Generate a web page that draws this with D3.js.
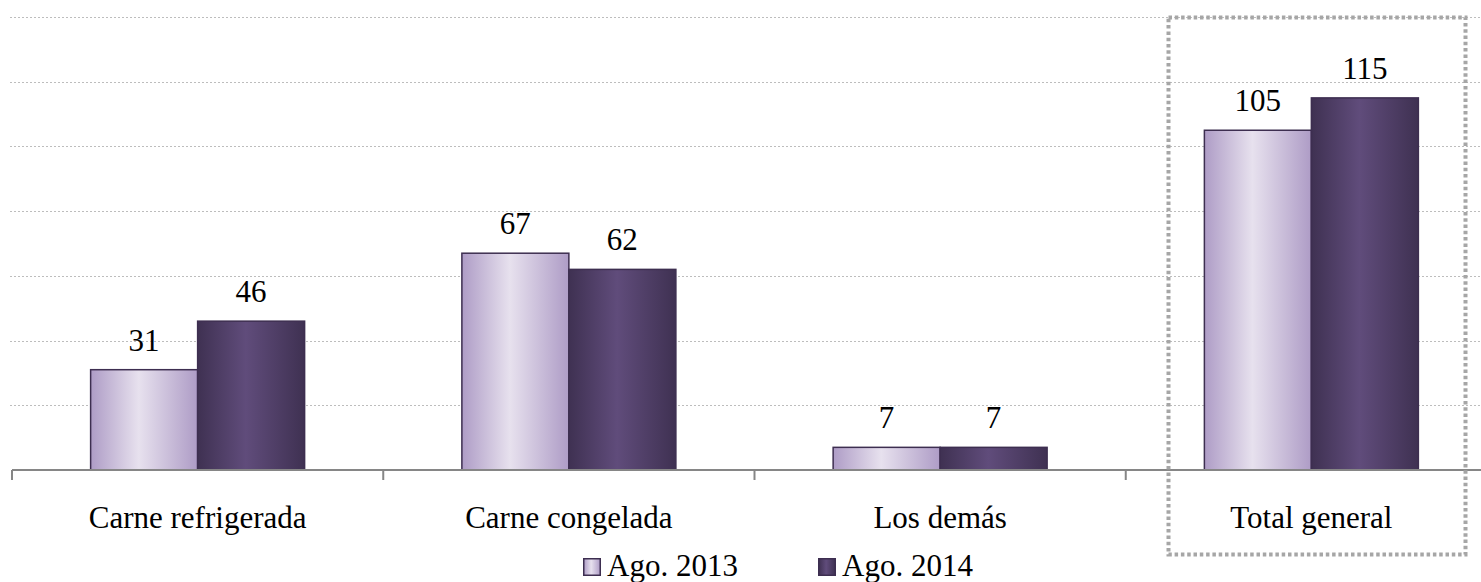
<!DOCTYPE html>
<html>
<head>
<meta charset="utf-8">
<script src="https://cdn.jsdelivr.net/npm/d3@7"></script>
<style>
  body { margin: 0; background: #fff; }
  svg { display: block; }
  text { font-family: "Liberation Serif", "DejaVu Serif", serif; }
</style>
</head>
<body>
<div id="graph"></div>
<script>
var categories = ["Carne refrigerada", "Carne congelada", "Los demás", "Total general"];
var series = ["Ago. 2013", "Ago. 2014"];
var values2013 = [31, 67, 7, 105];
var values2014 = [46, 62, 7, 115];
var yTicks = [0, 20, 40, 60, 80, 100, 120, 140];

var width = 1481, height = 582;
var baseY = 470, topY = 17;
var serif = "Liberation Serif";

var svg = d3.select("#graph").append("svg")
  .attr("width", width)
  .attr("height", height)
  .attr("font-family", serif);

var defs = svg.append("defs");
function grad(id, edge, mid) {
  var g = defs.append("linearGradient").attr("id", id)
    .attr("x1", "0%").attr("x2", "100%").attr("y1", "0%").attr("y2", "0%");
  g.append("stop").attr("offset", "0%").attr("stop-color", edge);
  g.append("stop").attr("offset", "45%").attr("stop-color", mid);
  g.append("stop").attr("offset", "100%").attr("stop-color", edge);
}
grad("g2013", "#ae9cc6", "#e7e1ee");
grad("g2014", "#3f3152", "#604c7b");
var fills = ["url(#g2013)", "url(#g2014)"];

var x0 = d3.scaleBand()
  .domain(categories)
  .range([12, 12 + 4 * 371.25])
  .paddingInner(0.4236)
  .paddingOuter(0.2118);

var x1 = d3.scaleBand()
  .domain(series)
  .range([0, x0.bandwidth()]);

var y = d3.scaleLinear()
  .domain([0, 140])
  .range([baseY, topY]);

// gridlines
svg.selectAll("line.grid")
  .data(yTicks.slice(1))
  .enter()
    .append("line")
    .attr("class", "grid")
    .attr("x1", 10)
    .attr("x2", width)
    .attr("y1", function(d) { return Math.round(y(d)) + 0.5; })
    .attr("y2", function(d) { return Math.round(y(d)) + 0.5; })
    .attr("stroke", "#bdbdbd")
    .attr("stroke-width", 1)
    .attr("stroke-dasharray", "2,2");

// bars
var rows = categories.map(function(c, i) {
  return { cat: c, vals: [values2013[i], values2014[i]] };
});

var groups = svg.selectAll("g.cat")
  .data(rows)
  .enter()
    .append("g")
    .attr("class", "cat")
    .attr("transform", function(d) { return "translate(" + x0(d.cat) + ",0)"; });

groups.selectAll("rect")
  .data(function(d) { return d.vals.map(function(v, i) { return { s: series[i], v: v, i: i }; }); })
  .enter()
    .append("rect")
    .attr("x", function(d) { return x1(d.s); })
    .attr("y", function(d) { return y(d.v); })
    .attr("width", x1.bandwidth())
    .attr("height", function(d) { return baseY - y(d.v); })
    .attr("fill", function(d) { return fills[d.i]; })
    .attr("stroke", "#3d2e50")
    .attr("stroke-width", 1.5);

groups.selectAll("text")
  .data(function(d) { return d.vals.map(function(v, i) { return { s: series[i], v: v }; }); })
  .enter()
    .append("text")
    .attr("x", function(d) { return x1(d.s) + x1.bandwidth() / 2; })
    .attr("y", function(d) { return y(d.v) - 19; })
    .attr("text-anchor", "middle")
    .attr("font-family", serif)
    .attr("font-size", 31)
    .attr("fill", "#000")
    .text(function(d) { return d.v; });

// axis line and ticks
var step = x0.step();
var bounds = categories.map(function(c) { return x0(c) - step * x0.paddingInner() / 2; });
bounds.push(bounds[bounds.length - 1] + step);

svg.append("line")
  .attr("x1", 12).attr("x2", width)
  .attr("y1", baseY).attr("y2", baseY)
  .attr("stroke", "#868686")
  .attr("stroke-width", 2);

svg.selectAll("line.tick")
  .data(bounds)
  .enter()
    .append("line")
    .attr("class", "tick")
    .attr("x1", function(d) { return d; })
    .attr("x2", function(d) { return d; })
    .attr("y1", baseY)
    .attr("y2", baseY + 10)
    .attr("stroke", "#868686")
    .attr("stroke-width", 2);

svg.selectAll("text.cat")
  .data(categories)
  .enter()
    .append("text")
    .attr("class", "cat")
    .attr("x", function(d) { return x0(d) + x0.bandwidth() / 2; })
    .attr("y", 528)
    .attr("text-anchor", "middle")
    .attr("font-family", serif)
    .attr("font-size", 31)
    .attr("fill", "#000")
    .text(function(d) { return d; });

// highlight box around the total
svg.append("rect")
  .attr("x", 1168.5)
  .attr("y", 17.5)
  .attr("width", 297)
  .attr("height", 537)
  .attr("fill", "none")
  .attr("stroke", "#a6a6a6")
  .attr("stroke-width", 4)
  .attr("stroke-dasharray", "3.5,2.8");

// legend
var legendX = [583, 818];
var legend = svg.selectAll("g.legend")
  .data(series)
  .enter()
    .append("g")
    .attr("class", "legend")
    .attr("transform", function(d, i) { return "translate(" + legendX[i] + ",558)"; });

legend.append("rect")
  .attr("x", 0.75).attr("y", 0.75)
  .attr("width", 16.5).attr("height", 16.5)
  .attr("fill", function(d, i) { return fills[i]; })
  .attr("stroke", "#3d2e50")
  .attr("stroke-width", 1.5);

legend.append("text")
  .attr("x", 24)
  .attr("y", 18)
  .attr("font-family", serif)
  .attr("font-size", 31)
  .attr("fill", "#000")
  .text(function(d) { return d; });
</script>
</body>
</html>
